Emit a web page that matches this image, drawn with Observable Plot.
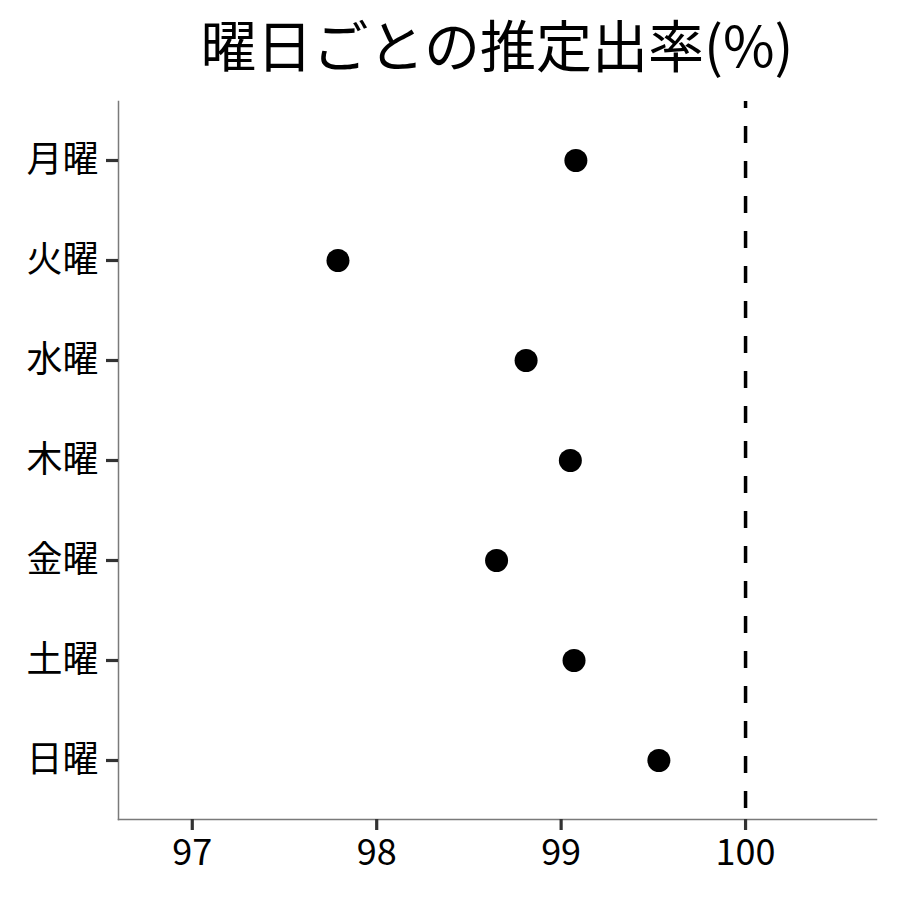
<!DOCTYPE html>
<html>
<head>
<meta charset="utf-8">
<script src="https://cdn.jsdelivr.net/npm/d3@7"></script>
<script src="https://cdn.jsdelivr.net/npm/@observablehq/plot@0.6"></script>
<style>
  html, body { margin: 0; padding: 0; background: #fff; }
  body { width: 900px; font-family: "Noto Sans CJK JP", sans-serif; }
  #title { height: 90px; width: 900px; position: relative; }
  #title span { position: absolute; left: 497px; top: 43px; transform: translate(-50%, -50%);
    font-size: 56px; white-space: nowrap; color: #000; line-height: 1; }
</style>
</head>
<body>
<div id="title"><span>曜日ごとの推定出率(%)</span></div>
<div id="chart"></div>
<script>
const days = ["月曜", "火曜", "水曜", "木曜", "金曜", "土曜", "日曜"];
const rates = [99.08, 97.79, 98.81, 99.05, 98.65, 99.07, 99.53];
const xTicks = [97, 98, 99, 100];
const refValue = [100];
const xDomain = [96.6, 100.71];

const data = days.map((d, i) => ({day: d, rate: rates[i]}));

const chart = Plot.plot({
  width: 900,
  height: 810,
  marginTop: 11,
  marginBottom: 81,
  marginLeft: 118,
  marginRight: 24,
  style: {fontFamily: '"Noto Sans CJK JP", sans-serif', color: "#000", background: "#fff"},
  x: {domain: xDomain},
  y: {type: "point", domain: days, padding: 0.59},
  marks: [
    Plot.frame({anchor: "left", stroke: "#7a7a7a", strokeWidth: 1.5}),
    Plot.frame({anchor: "bottom", stroke: "#7a7a7a", strokeWidth: 1.5}),
    Plot.axisX({ticks: xTicks, tickFormat: d => String(d), tickSize: 11, tickPadding: 9, strokeWidth: 3.2, stroke: "#333", fontSize: 36, fill: "#000", label: null}),
    Plot.axisY({tickSize: 12, tickPadding: 8, strokeWidth: 3.2, stroke: "#333", fontSize: 36, fill: "#000", label: null}),
    Plot.ruleX(refValue, {stroke: "#000", strokeWidth: 3.5, strokeDasharray: "17,18", strokeDashoffset: 10}),
    Plot.dot(data, {x: "rate", y: "day", r: 11.5, fill: "#000", stroke: null})
  ]
});
document.getElementById("chart").appendChild(chart);
</script>
</body>
</html>
